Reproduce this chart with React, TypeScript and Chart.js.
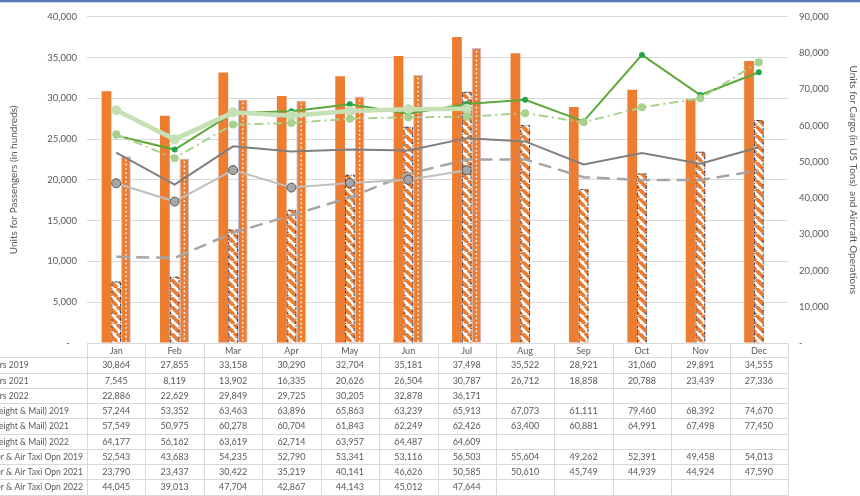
import { useEffect, useRef } from 'react';
import { Chart, registerables } from 'chart.js';

Chart.register(...registerables);

const months = ['Jan', 'Feb', 'Mar', 'Apr', 'May', 'Jun', 'Jul', 'Aug', 'Sep', 'Oct', 'Nov', 'Dec'];

const pax2019 = [30864, 27855, 33158, 30290, 32704, 35181, 37498, 35522, 28921, 31060, 29891, 34555];
const pax2021 = [7545, 8119, 13902, 16335, 20626, 26504, 30787, 26712, 18858, 20788, 23439, 27336];
const pax2022 = [22886, 22629, 29849, 29725, 30205, 32878, 36171, null, null, null, null, null];
const cargo2019 = [57244, 53352, 63463, 63896, 65863, 63239, 65913, 67073, 61111, 79460, 68392, 74670];
const cargo2021 = [57549, 50975, 60278, 60704, 61843, 62249, 62426, 63400, 60881, 64991, 67498, 77450];
const cargo2022 = [64177, 56162, 63619, 62714, 63957, 64487, 64609, null, null, null, null, null];
const ops2019 = [52543, 43683, 54235, 52790, 53341, 53116, 56503, 55604, 49262, 52391, 49458, 54013];
const ops2021 = [23790, 23437, 30422, 35219, 40141, 46626, 50585, 50610, 45749, 44939, 44924, 47590];
const ops2022 = [44045, 39013, 47704, 42867, 44143, 45012, 47644, null, null, null, null, null];

const seriesNames = [
  'Passengers 2019',
  'Passengers 2021',
  'Passengers 2022',
  'Cargo (Freight & Mail) 2019',
  'Cargo (Freight & Mail) 2021',
  'Cargo (Freight & Mail) 2022',
  'Air Carrier & Air Taxi Opn 2019',
  'Air Carrier & Air Taxi Opn 2021',
  'Air Carrier & Air Taxi Opn 2022',
];
const seriesData = [pax2019, pax2021, pax2022, cargo2019, cargo2021, cargo2022, ops2019, ops2021, ops2022];

const leftTitle = 'Units for Passengers (in hundreds)';
const rightTitle = 'Units for Cargo (in US Tons)  and Aircraft Operations';

const ORANGE = '#ED7D31';
const FONT = 'Lato';
const TEXT = '#595959';

function makeHatch(): CanvasPattern | string {
  const c = document.createElement('canvas');
  const s = 9;
  c.width = s;
  c.height = s;
  const g = c.getContext('2d');
  if (!g) return ORANGE;
  g.fillStyle = '#ffffff';
  g.fillRect(0, 0, s, s);
  g.strokeStyle = ORANGE;
  g.lineWidth = 3.8;
  for (const o of [-s, 0, s]) {
    g.beginPath();
    g.moveTo(o, 0);
    g.lineTo(o + s, s);
    g.stroke();
  }
  const p = g.createPattern(c, 'repeat');
  return p || ORANGE;
}

const fmt = (v: number) => v.toLocaleString('en-US');

const decorPlugin = {
  id: 'decor',
  afterDatasetDraw(chart: any, args: any) {
    const ctx = chart.ctx;
    const meta = chart.getDatasetMeta(args.index);
    if (args.index === 1) {
      ctx.save();
      ctx.strokeStyle = '#2b3f6b';
      ctx.lineWidth = 1;
      ctx.setLineDash([3, 1.5, 1, 1.5]);
      meta.data.forEach((el: any, i: number) => {
        if (pax2021[i] == null) return;
        const l = el.x - el.width / 2 + 0.5;
        const r = el.x + el.width / 2 - 0.5;
        ctx.beginPath();
        ctx.moveTo(l, el.base);
        ctx.lineTo(l, el.y + 0.5);
        ctx.lineTo(r, el.y + 0.5);
        ctx.lineTo(r, el.base);
        ctx.stroke();
      });
      ctx.restore();
    }
    if (args.index === 2) {
      ctx.save();
      ctx.fillStyle = '#ffffff';
      meta.data.forEach((el: any, i: number) => {
        if (pax2022[i] == null) return;
        for (let y = el.y + 3; y < el.base - 1; y += 4.3) {
          ctx.fillRect(el.x - 0.7, y, 1.4, 1.8);
        }
      });
      ctx.restore();
    }
  },
  afterDraw(chart: any) {
    const ctx = chart.ctx;
    const { left, right, bottom } = chart.chartArea;
    const xs = chart.scales.x;
    const n = months.length;
    const cw = (right - left) / n;
    const rowH = 15.25;
    const rows = seriesNames.length + 1;
    ctx.save();
    // top frame line
    ctx.fillStyle = '#5b79b8';
    ctx.fillRect(0, 0, chart.width, 2);
    ctx.fillStyle = 'rgba(91,121,184,0.25)';
    ctx.fillRect(0, 2, chart.width, 1);

    ctx.strokeStyle = '#d9d9d9';
    ctx.lineWidth = 1;
    ctx.beginPath();
    const yTop = Math.round(bottom) + 0.5;
    ctx.moveTo(left, yTop);
    ctx.lineTo(right, yTop);
    for (let k = 1; k <= rows; k++) {
      const y = Math.round(bottom + rowH * k) - 0.5;
      ctx.moveTo(0, y);
      ctx.lineTo(right, y);
    }
    for (let i = 0; i <= n; i++) {
      const x = Math.round(left + cw * i) + 0.5;
      ctx.moveTo(x, yTop);
      ctx.lineTo(x, bottom + rowH * rows);
    }
    ctx.stroke();

    ctx.fillStyle = TEXT;
    ctx.font = `9px ${FONT}`;
    ctx.textBaseline = 'middle';
    ctx.textAlign = 'center';
    months.forEach((m, i) => {
      ctx.fillText(m, xs.getPixelForValue(i), bottom + rowH * 0.5);
    });
    ctx.font = `8.6px ${FONT}`;
    const wLong = ctx.measureText(seriesNames[6]).width;
    const wShort = ctx.measureText(seriesNames[0]).width;
    const x0 = (83 - wLong + 28.7 - wShort) / 2;
    seriesData.forEach((arr, r) => {
      const yc = bottom + rowH * (r + 1.5) - 0.3;
      ctx.textAlign = 'left';
      ctx.font = `8.6px ${FONT}`;
      ctx.fillText(seriesNames[r], x0, yc);
      ctx.textAlign = 'center';
      ctx.font = `9px ${FONT}`;
      arr.forEach((v, i) => {
        if (v == null) return;
        ctx.fillText(fmt(v), xs.getPixelForValue(i), yc);
      });
    });
    ctx.restore();
  },
};

export default function App() {
  const ref = useRef<HTMLCanvasElement>(null);
  useEffect(() => {
    document.body.style.margin = '0';
    const canvas = ref.current;
    if (!canvas) return;
    const hatch = makeHatch();
    const chart = new Chart(canvas, {
      type: 'bar',
      data: {
        labels: months,
        datasets: [
          { type: 'bar', label: seriesNames[0], data: pax2019, backgroundColor: ORANGE, borderWidth: 0, yAxisID: 'y', order: 10 },
          { type: 'bar', label: seriesNames[1], data: pax2021, backgroundColor: hatch as any, borderWidth: 0, yAxisID: 'y', order: 10 },
          { type: 'bar', label: seriesNames[2], data: pax2022, backgroundColor: ORANGE, borderColor: '#b4c3e6', borderWidth: 1, yAxisID: 'y', order: 10 },
          { type: 'line', label: seriesNames[3], data: cargo2019, borderColor: '#5ea83a', backgroundColor: '#22a54a', borderWidth: 2, pointRadius: 3, pointBackgroundColor: '#22a54a', pointBorderColor: '#22a54a', pointBorderWidth: 0, yAxisID: 'y2', order: 2 },
          { type: 'line', label: seriesNames[4], data: cargo2021, borderColor: '#a9d18e', backgroundColor: '#a9d18e', borderWidth: 2, borderDash: [9, 4, 2, 4], pointRadius: 4, pointBackgroundColor: '#a9d18e', pointBorderColor: '#a9d18e', pointBorderWidth: 0, yAxisID: 'y2', order: 0 },
          { type: 'line', label: seriesNames[5], data: cargo2022, borderColor: '#c5e0b4', backgroundColor: '#c5e0b4', borderWidth: 4.5, pointRadius: 5, pointBackgroundColor: '#c5e0b4', pointBorderColor: '#c5e0b4', pointBorderWidth: 0, yAxisID: 'y2', order: 1 },
          { type: 'line', label: seriesNames[6], data: ops2019, borderColor: '#7f7f7f', borderWidth: 2, pointRadius: 0, yAxisID: 'y2', order: 4 },
          { type: 'line', label: seriesNames[7], data: ops2021, borderColor: '#a5a5a5', borderWidth: 2.5, borderDash: [13, 7], pointRadius: 0, yAxisID: 'y2', order: 5 },
          { type: 'line', label: seriesNames[8], data: ops2022, borderColor: '#bfbfbf', backgroundColor: '#a6a6a6', borderWidth: 2, pointRadius: 4.5, pointBackgroundColor: '#a6a6a6', pointBorderColor: '#595959', pointBorderWidth: 1, yAxisID: 'y2', order: 3 },
        ] as any,
      },
      options: {
        responsive: false,
        animation: false,
        events: [],
        layout: { padding: { top: 10, bottom: 153, left: 0, right: 0 } },
        datasets: { bar: { categoryPercentage: 0.5, barPercentage: 1 } },
        elements: { line: { tension: 0 } },
        plugins: { legend: { display: false }, tooltip: { enabled: false } },
        scales: {
          x: { type: 'category', display: false, offset: true, grid: { display: false } },
          y: {
            type: 'linear',
            position: 'left',
            min: 0,
            max: 40000,
            afterFit: (s: any) => { s.width = 87; },
            border: { display: false },
            grid: { color: '#d9d9d9', drawTicks: false, lineWidth: 1 },
            ticks: {
              stepSize: 5000,
              padding: 10,
              color: TEXT,
              font: { family: FONT, size: 9.5 },
              callback: (v: any) => (Number(v) === 0 ? '-   ' : fmt(Number(v))),
            },
            title: { display: true, text: leftTitle, color: TEXT, font: { family: FONT, size: 10 }, padding: { top: 8, bottom: 0 } },
          },
          y2: {
            type: 'linear',
            position: 'right',
            min: 0,
            max: 90000,
            afterFit: (s: any) => { s.width = 72; },
            border: { display: false },
            grid: { display: false, drawTicks: false },
            ticks: {
              stepSize: 10000,
              padding: 11,
              color: TEXT,
              font: { family: FONT, size: 9.5 },
              callback: (v: any) => (Number(v) === 0 ? '-' : fmt(Number(v))),
            },
            title: { display: true, text: rightTitle, color: TEXT, font: { family: FONT, size: 10 }, padding: { top: 1, bottom: 0 } },
          },
        },
      } as any,
      plugins: [decorPlugin as any],
    });
    return () => chart.destroy();
  }, []);
  return (
    <div style={{ position: 'absolute', left: 0, top: 0, width: 860, height: 496 }}>
      <canvas ref={ref} width={860} height={496} style={{ width: 860, height: 496, display: 'block' }} />
    </div>
  );
}
